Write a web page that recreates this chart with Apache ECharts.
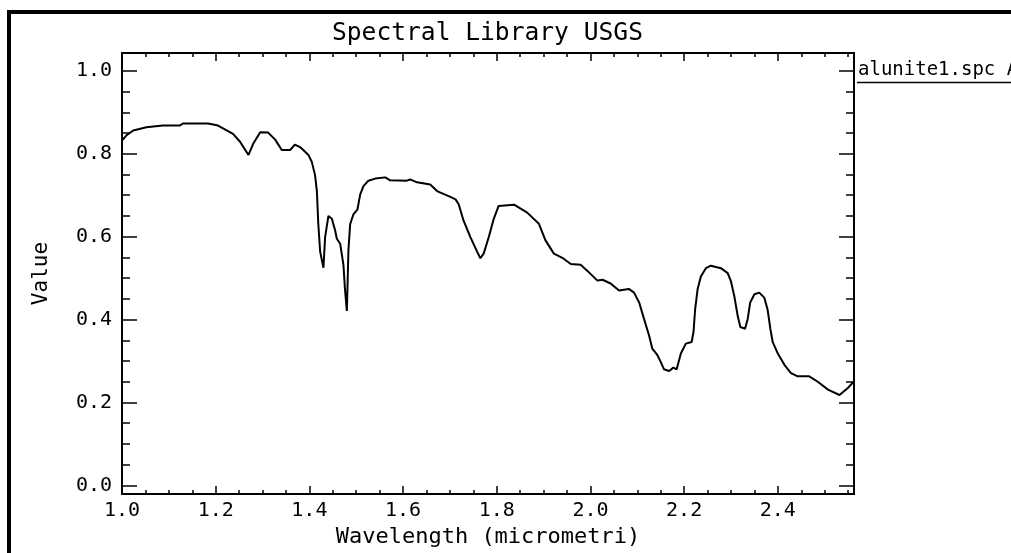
<!DOCTYPE html>
<html>
<head>
<meta charset="utf-8">
<script src="https://cdn.jsdelivr.net/npm/echarts@6/dist/echarts.min.js"></script>
<style>
  html, body { margin: 0; padding: 0; background: #fff; }
  #chart { width: 1011px; height: 553px; }
</style>
</head>
<body>
<div id="chart"></div>
<script>
// ---- Data ----
const wavelength = [
  1.000, 1.010, 1.024, 1.052, 1.087, 1.123, 1.130, 1.184, 1.205, 1.237,
  1.252, 1.270, 1.280, 1.295, 1.312, 1.327, 1.341, 1.359, 1.369, 1.380,
  1.387, 1.398, 1.405, 1.412, 1.416, 1.419, 1.423, 1.4265, 1.430, 1.4336,
  1.4406, 1.448, 1.455, 1.4586, 1.4657, 1.4727, 1.476, 1.480, 1.4834, 1.487,
  1.494, 1.5027, 1.5085, 1.5155, 1.526, 1.5405, 1.562, 1.5726, 1.608, 1.615,
  1.630, 1.658, 1.6725, 1.701, 1.712, 1.7187, 1.729, 1.7437, 1.758, 1.765,
  1.772, 1.783, 1.7936, 1.804, 1.837, 1.865, 1.890, 1.904, 1.922, 1.940,
  1.958, 1.979, 1.993, 2.015, 2.026, 2.043, 2.061, 2.082, 2.093, 2.104,
  2.1145, 2.125, 2.132, 2.143, 2.150, 2.157, 2.168, 2.177, 2.184, 2.193,
  2.2036, 2.216, 2.220, 2.2235, 2.2287, 2.2357, 2.2464, 2.257, 2.2785, 2.293,
  2.300, 2.307, 2.3143, 2.320, 2.330, 2.3356, 2.341, 2.350, 2.3604, 2.371,
  2.378, 2.384, 2.389, 2.400, 2.414, 2.428, 2.4425, 2.467, 2.4853, 2.507,
  2.5316, 2.5495, 2.5626
];
const reflectance = [
  0.832, 0.845, 0.856, 0.864, 0.868, 0.868, 0.873, 0.873, 0.868, 0.848,
  0.829, 0.797, 0.824, 0.852, 0.851, 0.834, 0.809, 0.809, 0.822, 0.816,
  0.809, 0.797, 0.781, 0.749, 0.710, 0.631, 0.564, 0.544, 0.525, 0.599,
  0.650, 0.643, 0.615, 0.595, 0.583, 0.532, 0.473, 0.421, 0.568, 0.630,
  0.654, 0.666, 0.702, 0.722, 0.735, 0.740, 0.743, 0.736, 0.735, 0.738,
  0.731, 0.726, 0.710, 0.696, 0.690, 0.678, 0.639, 0.599, 0.564, 0.548,
  0.559, 0.599, 0.643, 0.674, 0.677, 0.658, 0.631, 0.591, 0.559, 0.549,
  0.534, 0.532, 0.518, 0.494, 0.496, 0.487, 0.470, 0.474, 0.465, 0.441,
  0.401, 0.362, 0.330, 0.314, 0.298, 0.280, 0.276, 0.284, 0.280, 0.318,
  0.342, 0.346, 0.370, 0.425, 0.473, 0.504, 0.524, 0.530, 0.524, 0.512,
  0.492, 0.457, 0.409, 0.382, 0.378, 0.401, 0.441, 0.461, 0.465, 0.453,
  0.425, 0.378, 0.346, 0.318, 0.291, 0.271, 0.263, 0.263, 0.250, 0.231,
  0.218, 0.235, 0.251
];
const xMajorTicks = [1.0, 1.2, 1.4, 1.6, 1.8, 2.0, 2.2, 2.4];
const xMinorTicks = [1.05, 1.1, 1.15, 1.25, 1.3, 1.35, 1.45, 1.5, 1.55, 1.65, 1.7, 1.75,
  1.85, 1.9, 1.95, 2.05, 2.1, 2.15, 2.25, 2.3, 2.35, 2.45, 2.5, 2.55];
const yMajorTicks = [0.0, 0.2, 0.4, 0.6, 0.8, 1.0];
const yMinorTicks = [0.05, 0.1, 0.15, 0.25, 0.3, 0.35, 0.45, 0.5, 0.55, 0.65, 0.7, 0.75,
  0.85, 0.9, 0.95];
const titleText = 'Spectral Library USGS';
const xName = 'Wavelength (micrometri)';
const yName = 'Value';
const seriesName = 'alunite1.spc A';

// ---- Chart ----
const FONT = 'DejaVu Sans Mono';
const X_MIN = 1.0, X_MAX = 2.5626, Y_MIN = -0.021, Y_MAX = 1.043;
const points = wavelength.map((w, i) => [w, reflectance[i]]);

function xAxis(position, major, withLabels) {
  return {
    type: 'value', gridIndex: 0, position: position,
    min: X_MIN, max: X_MAX,
    axisLine: { show: major, onZero: false, lineStyle: { color: '#000', width: 2 } },
    axisTick: { show: true, inside: true, length: major ? 8 : 4,
      customValues: major ? xMajorTicks : xMinorTicks,
      lineStyle: { color: '#000', width: 1.5 } },
    axisLabel: withLabels ? {
      show: true, customValues: xMajorTicks, margin: 7,
      formatter: v => v.toFixed(1),
      fontFamily: FONT, fontSize: 20, color: '#000'
    } : { show: false },
    splitLine: { show: false },
    name: withLabels ? xName : '',
    nameLocation: 'middle', nameGap: 28,
    nameTextStyle: { fontFamily: FONT, fontSize: 22, color: '#000' }
  };
}
function yAxis(position, major, withLabels) {
  return {
    type: 'value', gridIndex: 0, position: position,
    min: Y_MIN, max: Y_MAX,
    axisLine: { show: major, onZero: false, lineStyle: { color: '#000', width: 2 } },
    axisTick: { show: true, inside: true, length: major ? 15 : 8,
      customValues: major ? yMajorTicks : yMinorTicks,
      lineStyle: { color: '#000', width: 1.5 } },
    axisLabel: withLabels ? {
      show: true, customValues: yMajorTicks, margin: 10,
      formatter: v => v.toFixed(1),
      fontFamily: FONT, fontSize: 20, color: '#000'
    } : { show: false },
    splitLine: { show: false },
    name: withLabels ? yName : '',
    nameLocation: 'middle', nameGap: 70,
    nameTextStyle: { fontFamily: FONT, fontSize: 21, color: '#000' }
  };
}

const chart = echarts.init(document.getElementById('chart'), null, { renderer: 'canvas' });
chart.setOption({
  backgroundColor: '#fff',
  animation: false,
  title: {
    text: titleText, left: 332, top: 21, padding: 0,
    textStyle: { fontFamily: FONT, fontSize: 24.6, fontWeight: 'normal', color: '#000' }
  },
  grid: { left: 122, top: 53, width: 732, height: 448, containLabel: false },
  xAxis: [
    xAxis('bottom', true, true),
    xAxis('bottom', false, false),
    xAxis('top', true, false),
    xAxis('top', false, false)
  ],
  yAxis: [
    yAxis('left', true, true),
    yAxis('left', false, false),
    yAxis('right', true, false),
    yAxis('right', false, false)
  ],
  series: [{
    name: seriesName, type: 'line', xAxisIndex: 0, yAxisIndex: 0,
    data: points, showSymbol: false, smooth: false,
    lineStyle: { color: '#000', width: 2 }
  }],
  graphic: [
    { type: 'rect', shape: { x: 9, y: 12, width: 1200, height: 800 },
      style: { fill: null, stroke: '#000', lineWidth: 4 }, silent: true },
    { type: 'text', x: 858, y: 61,
      style: { text: seriesName, font: '19px "DejaVu Sans Mono"', fill: '#000' }, silent: true },
    { type: 'line', shape: { x1: 857, y1: 82.5, x2: 1011, y2: 82.5 },
      style: { stroke: '#000', lineWidth: 1.5 }, silent: true }
  ]
});
</script>
</body>
</html>
